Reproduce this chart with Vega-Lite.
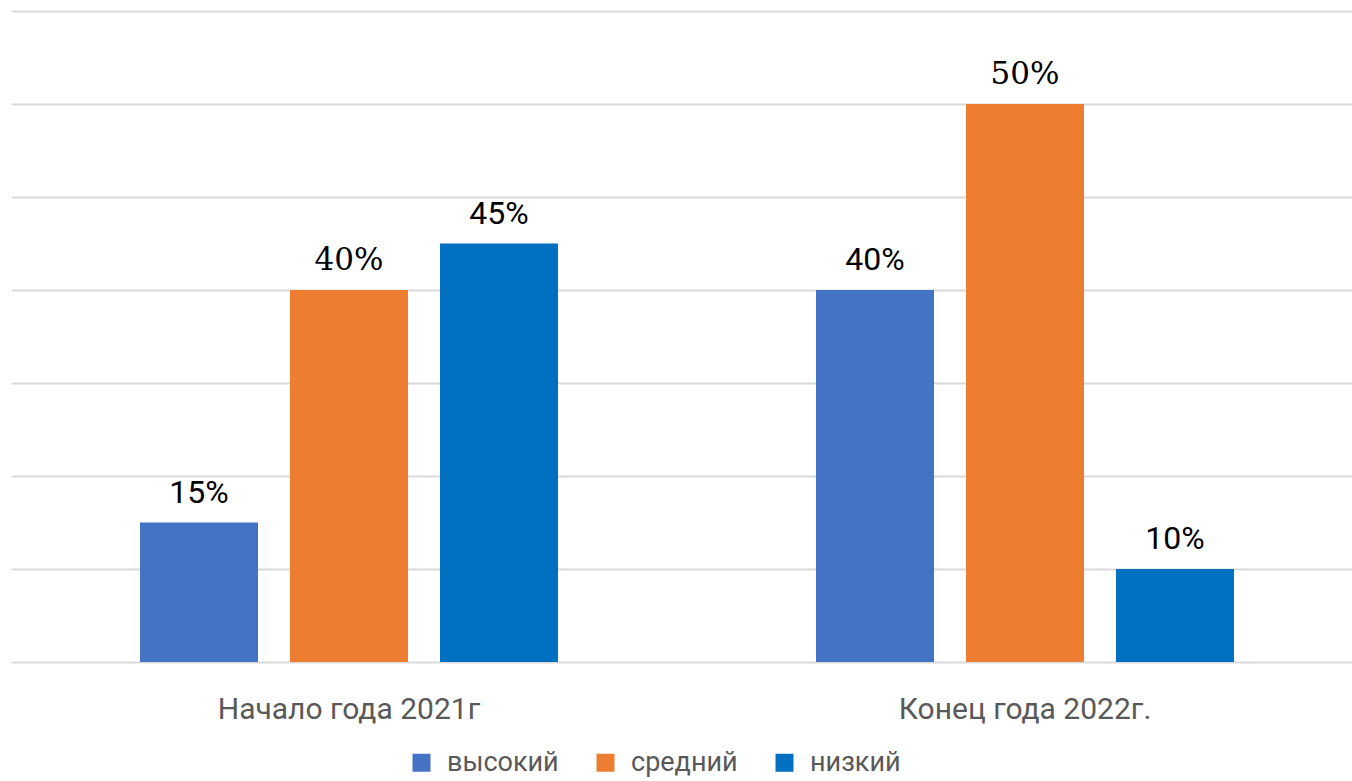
{
  "$schema": "https://vega.github.io/schema/vega-lite/v6.json",
  "width": 1341,
  "height": 651,
  "autosize": {"type": "none"},
  "padding": {"left": 11, "top": 11, "right": 0, "bottom": 119},
  "background": "white",
  "config": {"view": {"stroke": null}},
  "data": {
    "values": [
      {"period": "Начало года 2021г", "level": "высокий", "value": 15, "label": "15%"},
      {"period": "Начало года 2021г", "level": "средний", "value": 40, "label": "40%"},
      {"period": "Начало года 2021г", "level": "низкий", "value": 45, "label": "45%"},
      {"period": "Конец года 2022г.", "level": "высокий", "value": 40, "label": "40%"},
      {"period": "Конец года 2022г.", "level": "средний", "value": 60, "label": "50%"},
      {"period": "Конец года 2022г.", "level": "низкий", "value": 10, "label": "10%"}
    ]
  },
  "encoding": {
    "x": {
      "field": "period", "type": "nominal",
      "sort": ["Начало года 2021г", "Конец года 2022г."],
      "scale": {"range": [0, 1352], "paddingInner": 0, "paddingOuter": 0},
      "axis": {
        "title": null, "domain": false, "ticks": false, "labelAngle": 0,
        "labelFont": "Roboto", "labelLimit": 0,
        "labelFontSize": 30, "labelColor": "#595959", "labelPadding": 32
      }
    },
    "xOffset": {
      "field": "level", "type": "nominal",
      "sort": ["высокий", "средний", "низкий"],
      "scale": {"paddingInner": 0.2133, "paddingOuter": 0.86}
    },
    "y": {
      "field": "value", "type": "quantitative",
      "scale": {"domain": [0, 70], "nice": false},
      "axis": {
        "title": null, "labels": false, "ticks": false, "domain": false,
        "values": [0, 10, 20, 30, 40, 50, 60, 70],
        "grid": true, "gridColor": "#d9d9d9", "gridWidth": 2
      }
    }
  },
  "layer": [
    {
      "mark": {"type": "bar"},
      "encoding": {
        "color": {
          "field": "level", "type": "nominal",
          "sort": ["высокий", "средний", "низкий"],
          "scale": {"domain": ["высокий", "средний", "низкий"], "range": ["#4472C4", "#ED7D31", "#0070C0"]},
          "legend": {
            "title": null, "orient": "none", "direction": "horizontal",
            "legendX": 397, "legendY": 738,
            "symbolType": "square", "symbolSize": 324, "symbolStrokeWidth": 0,
            "labelFont": "Roboto", "labelLimit": 0,
            "labelFontSize": 27, "labelColor": "#595959",
            "columnPadding": 33, "labelOffset": 12
          }
        }
      }
    },
    {
      "transform": [{"filter": "datum.level !== 'средний'"}],
      "mark": {"type": "text", "baseline": "alphabetic", "dy": -20, "fontSize": 32, "font": "Roboto", "color": "#000000"},
      "encoding": {"text": {"field": "label"}}
    },
    {
      "transform": [{"filter": "datum.level === 'средний'"}],
      "mark": {"type": "text", "baseline": "alphabetic", "dy": -20, "fontSize": 31, "font": "DejaVu Serif", "color": "#000000"},
      "encoding": {"text": {"field": "label"}}
    }
  ]
}
